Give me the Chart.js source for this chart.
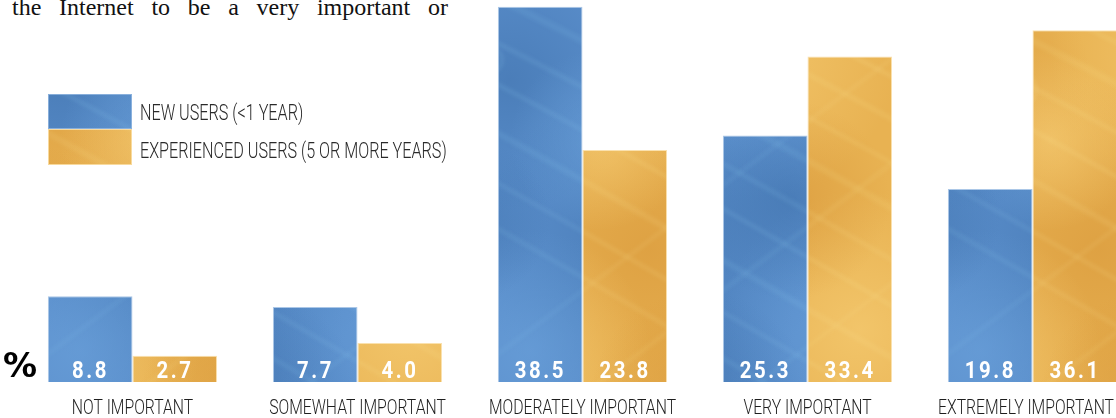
<!DOCTYPE html>
<html>
<head>
<meta charset="utf-8">
<script src="https://cdn.jsdelivr.net/npm/chart.js@4.4.1/dist/chart.umd.min.js"></script>
<style>
  html, body { margin: 0; padding: 0; background: #fff; }
  body { width: 1116px; height: 418px; overflow: hidden; position: relative; }
  #intro {
    position: absolute; left: 12px; top: -5px; width: 436px;
    font-family: "Liberation Serif", "DejaVu Serif", serif; font-size: 24px;
    line-height: 24px; color: #111; white-space: nowrap;
    text-align: justify; text-align-last: justify;
  }
  #chart { position: absolute; left: 0; top: 0; }
</style>
</head>
<body>
<div id="intro">the Internet to be a very important or</div>
<canvas id="chart" width="1170" height="418"></canvas>
<script>
// Importance of the Internet, % of respondents, by length of use
const categories = ['NOT IMPORTANT', 'SOMEWHAT IMPORTANT', 'MODERATELY IMPORTANT', 'VERY IMPORTANT', 'EXTREMELY IMPORTANT'];
const seriesNames = ['NEW USERS (<1 YEAR)', 'EXPERIENCED USERS (5 OR MORE YEARS)'];
const newUsers = [8.8, 7.7, 38.5, 25.3, 19.8];
const experiencedUsers = [2.7, 4.0, 23.8, 33.4, 36.1];
const unitLabel = '%';

// right edge of the visible page; labels are kept inside it
const PAGE_RIGHT = 1114;

// Soft photographic-looking fill: mottled base with faint light streaks
function makeTexture(tone) {
  const W = 450, H = 420;
  const c = document.createElement('canvas');
  c.width = W; c.height = H;
  const g = c.getContext('2d');
  g.fillStyle = tone.base;
  g.fillRect(0, 0, W, H);
  const rgba = (rgb, a) => `rgba(${rgb[0]},${rgb[1]},${rgb[2]},${a})`;
  const blobs = [
    [60, 80, 130, 'dark'], [300, 50, 150, 'light'], [200, 250, 170, 'dark'],
    [410, 330, 140, 'light'], [80, 350, 120, 'light'], [340, 200, 100, 'dark'],
    [150, 140, 90, 'light'], [250, 400, 110, 'dark'], [20, 220, 80, 'dark']
  ];
  blobs.forEach(([x, y, r, k]) => {
    const rg = g.createRadialGradient(x, y, 0, x, y, r);
    rg.addColorStop(0, rgba(tone[k], 0.55));
    rg.addColorStop(1, rgba(tone[k], 0));
    g.fillStyle = rg;
    g.fillRect(0, 0, W, H);
  });
  g.filter = 'blur(2px)';
  g.lineCap = 'round';
  // long diagonal streaks of varying strength
  const streaks = [
    [-380, 3, 0.18], [-300, 2, 0.28], [-210, 5, 0.14], [-120, 2, 0.3], [-40, 3, 0.2], [50, 6, 0.12],
    [130, 2, 0.26], [210, 4, 0.16], [290, 2, 0.3], [370, 3, 0.2], [440, 5, 0.13]
  ];
  streaks.forEach(([off, w, a]) => {
    g.strokeStyle = rgba(tone.streak, a);
    g.lineWidth = w;
    g.beginPath();
    g.moveTo(off, 0);
    g.bezierCurveTo(off + 250, 120, off + 480, 260, off + 760, H);
    g.stroke();
  });
  const cross = [[520, 2, 0.2], [660, 3, 0.14], [820, 2, 0.2]];
  cross.forEach(([off, w, a]) => {
    g.strokeStyle = rgba(tone.streak, a);
    g.lineWidth = w;
    g.beginPath();
    g.moveTo(off, 0);
    g.lineTo(off - 560, H);
    g.stroke();
  });
  tone.rings.forEach(([x, y, r]) => {
    g.strokeStyle = rgba(tone.streak, 0.28);
    g.lineWidth = 2;
    g.beginPath();
    g.arc(x, y, r, 0, Math.PI * 2);
    g.stroke();
  });
  g.filter = 'none';
  return g.createPattern(c, 'repeat');
}

const ctx0 = document.getElementById('chart').getContext('2d');
const blueFill = makeTexture({
  base: '#5a8ecb', dark: [62, 112, 170], light: [110, 165, 222], streak: [150, 210, 245],
  rings: [[40, 60, 12], [250, 150, 9], [380, 280, 14]]
});
const goldFill = makeTexture({
  base: '#e8b252', dark: [214, 148, 55], light: [250, 212, 125], streak: [255, 235, 155],
  rings: [[120, 90, 16], [330, 300, 12]]
});

// Draws text squeezed horizontally, with optional extra letter spacing
function drawText(ctx, text, x, y, font, sx, spacing, align, maxRight) {
  ctx.save();
  ctx.font = font;
  ctx.textBaseline = 'alphabetic';
  ctx.textAlign = 'left';
  const chars = [...text];
  const widths = chars.map(ch => ctx.measureText(ch).width);
  const total = spacing
    ? widths.reduce((a, b) => a + b, 0) + spacing * (chars.length - 1)
    : ctx.measureText(text).width;
  let start = x;
  if (align === 'center') start = x - total * sx / 2;
  if (maxRight && start + total * sx > maxRight) start = maxRight - total * sx;
  ctx.translate(start, y);
  ctx.scale(sx, 1);
  if (spacing) {
    let cx = 0;
    chars.forEach((ch, i) => { ctx.fillText(ch, cx, 0); cx += widths[i] + spacing; });
  } else {
    ctx.fillText(text, 0, 0);
  }
  ctx.restore();
}

const LABEL_FONT = '300 21px Roboto, "Liberation Sans", sans-serif';
const LEGEND_FONT = '300 22px Roboto, "Liberation Sans", sans-serif';
const VALUE_FONT = 'bold 24px Roboto, "Liberation Sans", sans-serif';

const annotate = {
  id: 'annotate',
  afterDatasetsDraw(chart) {
    const ctx = chart.ctx;
    chart.data.datasets.forEach((ds, di) => {
      chart.getDatasetMeta(di).data.forEach((bar, i) => {
        ctx.fillStyle = '#ffffff';
        drawText(ctx, ds.data[i].toFixed(1), bar.x - 1, bar.base - 4.5, VALUE_FONT, 0.85, 3, 'center');
      });
    });
  },
  afterDraw(chart) {
    const ctx = chart.ctx;
    const x = chart.scales.x;
    // category names under each pair of bars
    ctx.fillStyle = '#1e1e1e';
    chart.data.labels.forEach((lab, i) => {
      drawText(ctx, lab, x.getPixelForValue(i), 413.5, LABEL_FONT, 0.75, 0, 'center', PAGE_RIGHT);
    });
    // unit sign at the left of the baseline
    ctx.save();
    ctx.fillStyle = '#000';
    ctx.font = 'bold 34px "DejaVu Sans", "Liberation Sans", sans-serif';
    ctx.textBaseline = 'alphabetic';
    ctx.fillText(unitLabel, 3, 377);
    ctx.restore();
    // legend: stacked swatches with their series names
    const boxes = [[94, 35, 120], [129, 36, 158]];
    chart.data.datasets.forEach((ds, di) => {
      const [top, h, base] = boxes[di];
      ctx.save();
      ctx.fillStyle = ds.backgroundColor;
      ctx.fillRect(48, top, 84, h);
      ctx.strokeStyle = ds.borderColor;
      ctx.lineWidth = 1;
      ctx.strokeRect(48.5, top + 0.5, 83, h - 1);
      ctx.restore();
      ctx.fillStyle = '#2a2a2a';
      drawText(ctx, ds.label, 140, base, LEGEND_FONT, 0.735, 0, 'left');
    });
  }
};

new Chart(ctx0, {
  type: 'bar',
  data: {
    labels: categories,
    datasets: [
      { label: seriesNames[0], data: newUsers, backgroundColor: blueFill,
        borderColor: 'rgba(150,185,225,0.8)', borderWidth: 1, borderSkipped: 'bottom' },
      { label: seriesNames[1], data: experiencedUsers, backgroundColor: goldFill,
        borderColor: 'rgba(250,222,165,0.9)', borderWidth: 1, borderSkipped: 'bottom' }
    ]
  },
  options: {
    responsive: false,
    animation: false,
    devicePixelRatio: 1,
    layout: { padding: { left: 20, right: 25, top: 0, bottom: 36 } },
    datasets: { bar: { categoryPercentage: 0.752, barPercentage: 1.0 } },
    scales: {
      x: { display: false },
      y: { display: false, min: 0, max: 39.2 }
    },
    plugins: {
      legend: { display: false },
      tooltip: { enabled: false }
    }
  },
  plugins: [annotate]
});
</script>
</body>
</html>
